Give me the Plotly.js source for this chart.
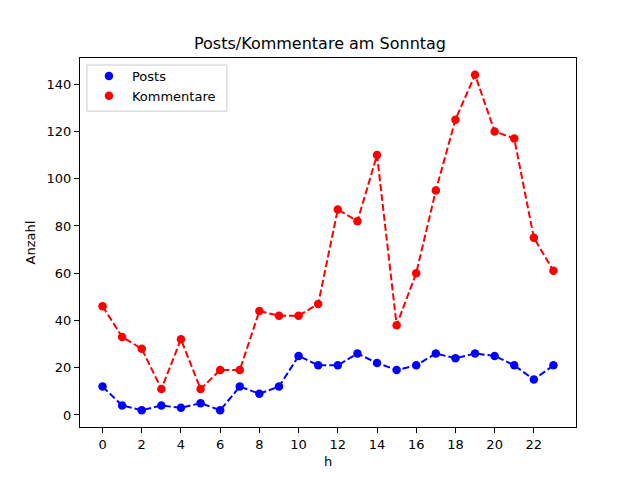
<!DOCTYPE html>
<html>
<head>
<meta charset="utf-8">
<script src="https://cdn.plot.ly/plotly-3.0.1.min.js"></script>
<style>
  body { margin: 0; padding: 0; background: #fff; }
  #chart { width: 640px; height: 480px; }
</style>
</head>
<body>
<div id="chart"></div>
<script>
// hours of the day
var hours = [0, 1, 2, 3, 4, 5, 6, 7, 8, 9, 10, 11, 12, 13, 14, 15, 16, 17, 18, 19, 20, 21, 22, 23];
// values
var posts = [12, 4, 2, 4, 3, 5, 2, 12, 9, 12, 25, 21, 21, 26, 22, 19, 21, 26, 24, 26, 25, 21, 15, 21];
var kommentare = [46, 33, 28, 11, 32, 11, 19, 19, 44, 42, 42, 47, 87, 82, 110, 38, 60, 95, 125, 144, 120, 117, 75, 61];
var xTicks = [0, 2, 4, 6, 8, 10, 12, 14, 16, 18, 20, 22];
var yTicks = [0, 20, 40, 60, 80, 100, 120, 140];

var font = "DejaVu Sans, sans-serif";

function dashed(y, color) {
  return {
    x: hours, y: y, mode: "lines", showlegend: false, hoverinfo: "skip",
    line: { color: color, width: 2, dash: "7px,3px" },
  };
}
function dots(y, color, name) {
  return {
    x: hours, y: y, mode: "markers", name: name,
    marker: { color: color, size: 8.5 },
  };
}

var data = [
  dashed(posts, "#0000ff"),
  dashed(kommentare, "#ff0000"),
  dots(posts, "#0000ff", "Posts"),
  dots(kommentare, "#ff0000", "Kommentare"),
];

var axisBase = {
  showline: true, mirror: true, linecolor: "#000", linewidth: 1,
  ticks: "outside", ticklen: 5, tickwidth: 1, tickcolor: "#000",
  showgrid: false, zeroline: false,
  tickfont: { family: font, size: 13, color: "#000" },
};

var layout = {
  width: 640, height: 480,
  margin: { l: 80, r: 64, t: 58, b: 53 },
  paper_bgcolor: "#fff", plot_bgcolor: "#fff",
  font: { family: font, size: 13, color: "#000" },
  title: {
    text: "Posts/Kommentare am Sonntag",
    font: { family: font, size: 16, color: "#000" },
    x: 0.5, xanchor: "center", y: 0.91, yref: "container", yanchor: "middle",
  },
  xaxis: Object.assign({}, axisBase, {
    range: [-1.15, 24.15], tickvals: xTicks,
    title: { text: "h", font: { family: font, size: 13 }, standoff: 6 },
  }),
  yaxis: Object.assign({}, axisBase, {
    range: [-5.1, 151.1], tickvals: yTicks,
    title: { text: "Anzahl", font: { family: font, size: 13 }, standoff: 8 },
  }),
  // legend frame drawn as a shape so the entries can sit like matplotlib's
  shapes: [{
    type: "rect", xref: "paper", yref: "paper", layer: "above",
    x0: 0.014, x1: 0.296, y0: 0.856, y1: 0.981,
    line: { color: "#cccccc", width: 1 },
    fillcolor: "rgba(255,255,255,0.8)",
  }],
  legend: {
    x: 0.012, y: 0.992, xanchor: "left", yanchor: "top",
    itemwidth: 36,
    bgcolor: "rgba(0,0,0,0)", borderwidth: 0,
    font: { family: font, size: 13, color: "#000" },
  },
  showlegend: true,
};

Plotly.newPlot("chart", data, layout, { displayModeBar: false, staticPlot: true });
</script>
</body>
</html>
